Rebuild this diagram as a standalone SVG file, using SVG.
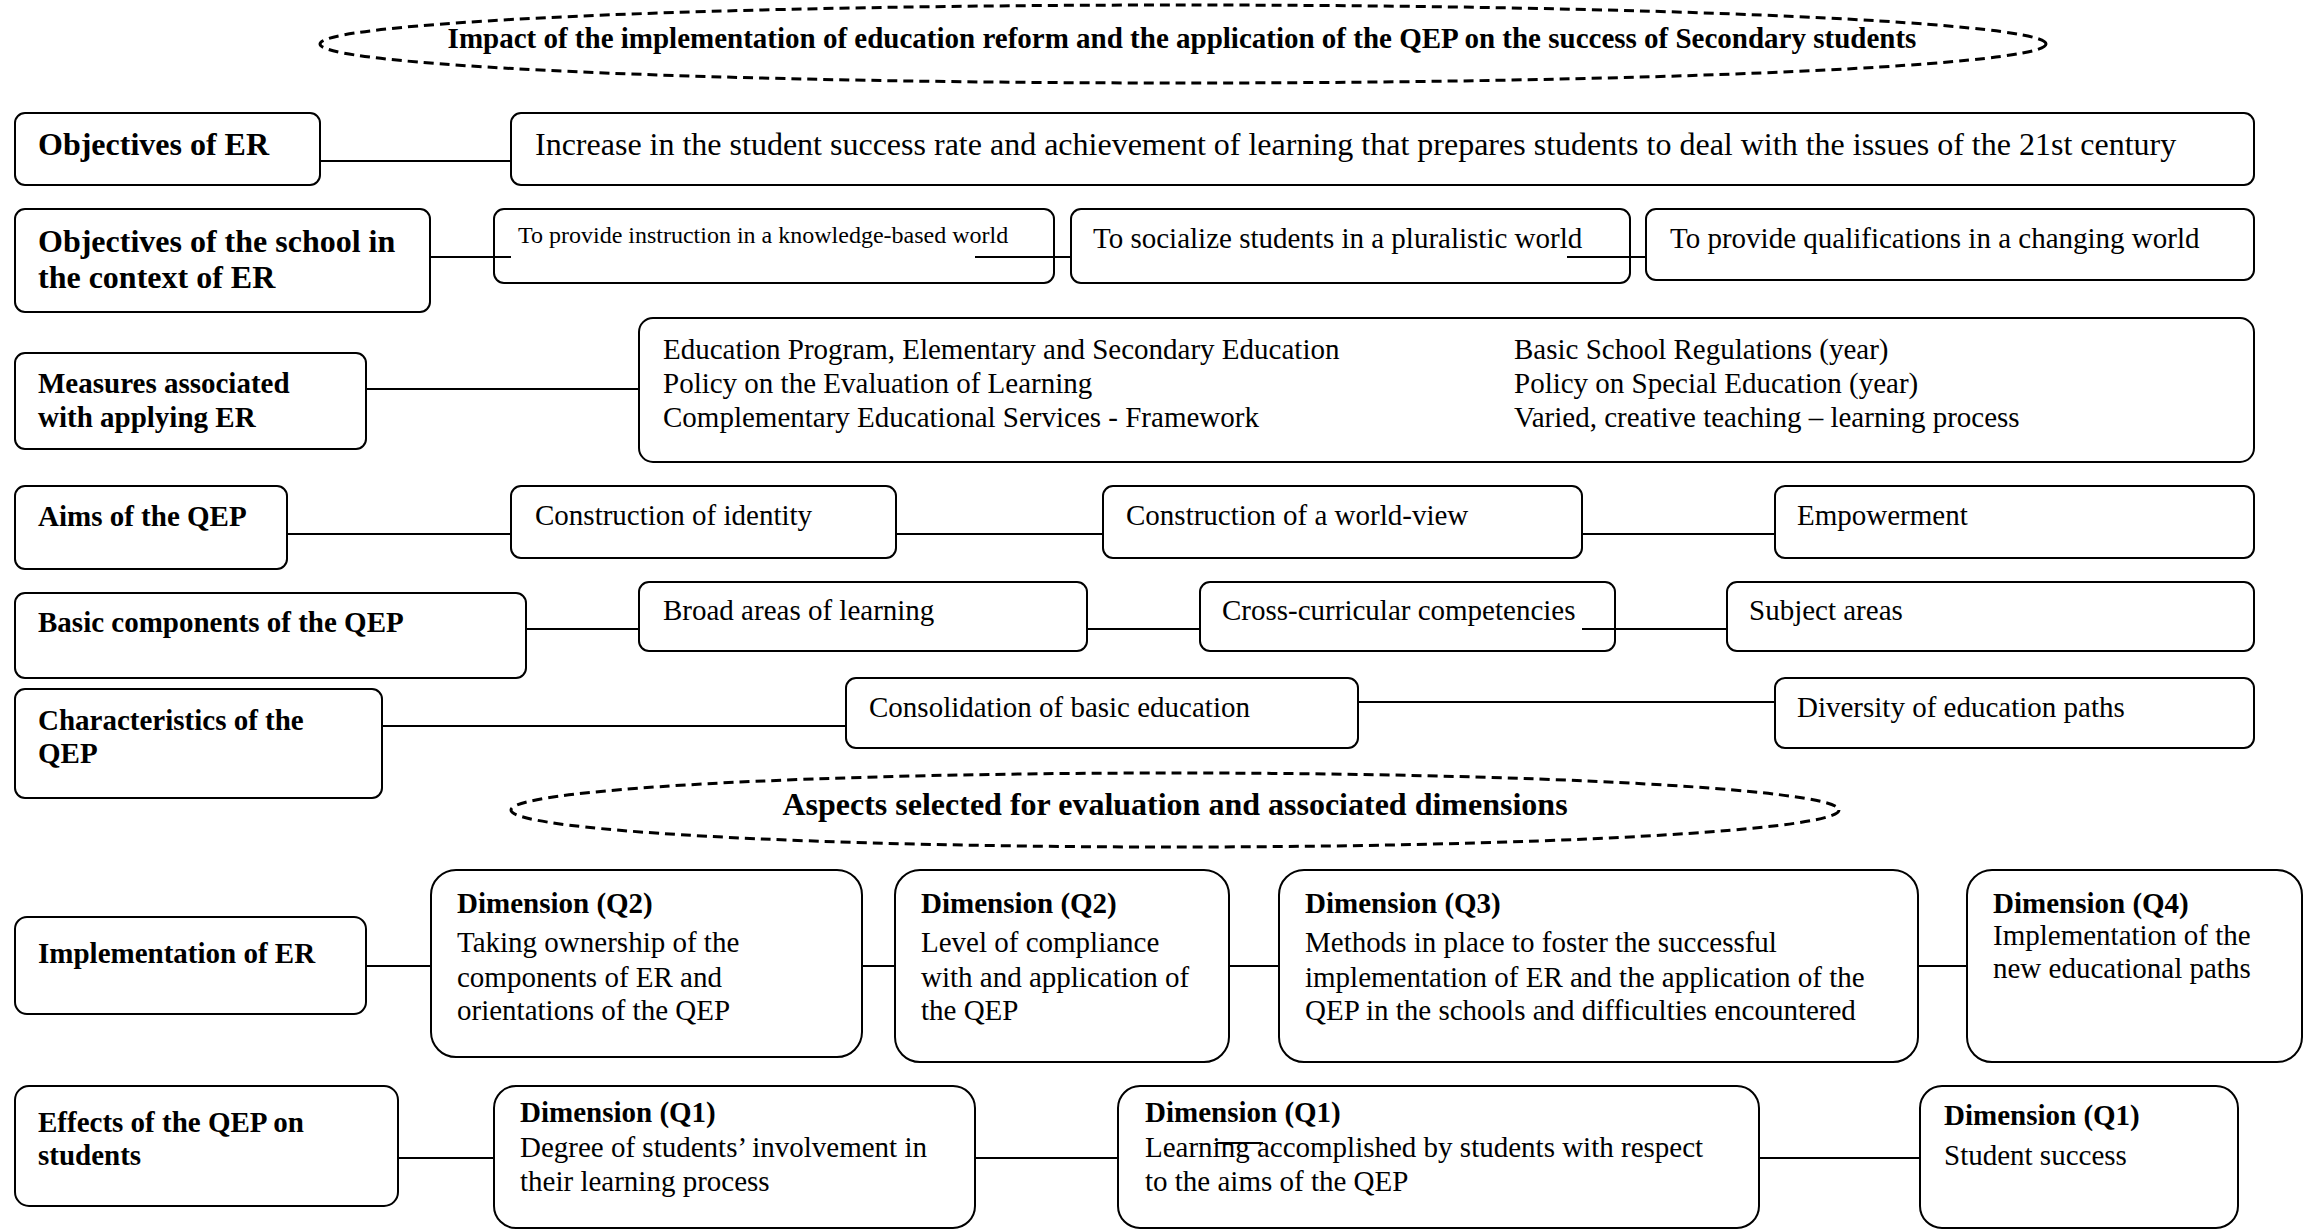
<svg xmlns="http://www.w3.org/2000/svg" width="2304" height="1230" viewBox="0 0 2304 1230">
<style>
  text { font-family: "Liberation Serif", "Times New Roman", serif; fill: #000; }
  .b { font-weight: bold; }
  .f32 { font-size: 32px; }
  .f29 { font-size: 29px; }
  .f24 { font-size: 24px; }
  .box { fill: #fff; stroke: #000; stroke-width: 2; }
  .ell { fill: none; stroke: #000; stroke-width: 3; stroke-dasharray: 10 6; }
  .con line { stroke: #000; stroke-width: 2; }
</style>
<rect width="2304" height="1230" fill="#fff"/>

<g id="title">
  <ellipse class="ell" cx="1183" cy="44" rx="863" ry="39"/>
  <text class="b f29" x="1182" y="48" text-anchor="middle">Impact of the implementation of education reform and the application of the QEP on the success of Secondary students</text>
</g>

<g id="obj-er">
  <rect class="box" x="15" y="113" width="305" height="72" rx="10"/>
  <text class="b f32" x="38" y="155">Objectives of ER</text>
</g>
<g id="obj-er-1">
  <rect class="box" x="511" y="113" width="1743" height="72" rx="10"/>
  <text class="f32" x="535" y="155">Increase in the student success rate and achievement of learning that prepares students to deal with the issues of the 21st century</text>
</g>

<g id="obj-school">
  <rect class="box" x="15" y="209" width="415" height="103" rx="10"/>
  <text class="b f32" x="38" y="252">Objectives of the school in</text>
  <text class="b f32" x="38" y="288">the context of ER</text>
</g>
<g id="obj-school-1">
  <rect class="box" x="494" y="209" width="560" height="74" rx="10"/>
  <text class="f24" x="518" y="243">To provide instruction in a knowledge-based world</text>
</g>
<g id="obj-school-2">
  <rect class="box" x="1071" y="209" width="559" height="74" rx="10"/>
  <text class="f29" x="1093" y="248">To socialize students in a pluralistic world</text>
</g>
<g id="obj-school-3">
  <rect class="box" x="1646" y="209" width="608" height="71" rx="10"/>
  <text class="f29" x="1670" y="248">To provide qualifications in a changing world</text>
</g>

<g id="measures">
  <rect class="box" x="15" y="353" width="351" height="96" rx="10"/>
  <text class="b f29" x="38" y="393">Measures associated</text>
  <text class="b f29" x="38" y="427">with applying ER</text>
</g>
<g id="measures-1">
  <rect class="box" x="639" y="318" width="1615" height="144" rx="14"/>
  <text class="f29" x="663" y="359">Education Program, Elementary and Secondary Education</text>
  <text class="f29" x="663" y="393">Policy on the Evaluation of Learning</text>
  <text class="f29" x="663" y="427">Complementary Educational Services - Framework</text>
  <text class="f29" x="1514" y="359">Basic School Regulations (year)</text>
  <text class="f29" x="1514" y="393">Policy on Special Education (year)</text>
  <text class="f29" x="1514" y="427">Varied, creative teaching – learning process</text>
</g>

<g id="aims">
  <rect class="box" x="15" y="486" width="272" height="83" rx="10"/>
  <text class="b f29" x="38" y="526">Aims of the QEP</text>
</g>
<g id="aims-1">
  <rect class="box" x="511" y="486" width="385" height="72" rx="10"/>
  <text class="f29" x="535" y="525">Construction of identity</text>
</g>
<g id="aims-2">
  <rect class="box" x="1103" y="486" width="479" height="72" rx="10"/>
  <text class="f29" x="1126" y="525">Construction of a world-view</text>
</g>
<g id="aims-3">
  <rect class="box" x="1775" y="486" width="479" height="72" rx="10"/>
  <text class="f29" x="1797" y="525">Empowerment</text>
</g>

<g id="components">
  <rect class="box" x="15" y="593" width="511" height="85" rx="10"/>
  <text class="b f29" x="38" y="632">Basic components of the QEP</text>
</g>
<g id="components-1">
  <rect class="box" x="639" y="582" width="448" height="69" rx="10"/>
  <text class="f29" x="663" y="620">Broad areas of learning</text>
</g>
<g id="components-2">
  <rect class="box" x="1200" y="582" width="415" height="69" rx="10"/>
  <text class="f29" x="1222" y="620">Cross-curricular competencies</text>
</g>
<g id="components-3">
  <rect class="box" x="1727" y="582" width="527" height="69" rx="10"/>
  <text class="f29" x="1749" y="620">Subject areas</text>
</g>

<g id="characteristics">
  <rect class="box" x="15" y="689" width="367" height="109" rx="10"/>
  <text class="b f29" x="38" y="730">Characteristics of the</text>
  <text class="b f29" x="38" y="763">QEP</text>
</g>
<g id="characteristics-1">
  <rect class="box" x="846" y="678" width="512" height="70" rx="10"/>
  <text class="f29" x="869" y="717">Consolidation of basic education</text>
</g>
<g id="characteristics-2">
  <rect class="box" x="1775" y="678" width="479" height="70" rx="10"/>
  <text class="f29" x="1797" y="717">Diversity of education paths</text>
</g>

<g id="aspects">
  <ellipse class="ell" cx="1175" cy="810" rx="664" ry="37"/>
  <text class="b f32" x="1175" y="815" text-anchor="middle">Aspects selected for evaluation and associated dimensions</text>
</g>

<g id="implementation">
  <rect class="box" x="15" y="917" width="351" height="97" rx="12"/>
  <text class="b f29" x="38" y="963">Implementation of ER</text>
</g>
<g id="impl-q2a">
  <rect class="box" x="431" y="870" width="431" height="187" rx="25"/>
  <text class="b f29" x="457" y="913">Dimension (Q2)</text>
  <text class="f29" x="457" y="952">Taking ownership of the</text>
  <text class="f29" x="457" y="987">components of ER and</text>
  <text class="f29" x="457" y="1020">orientations of the QEP</text>
</g>
<g id="impl-q2b">
  <rect class="box" x="895" y="870" width="334" height="192" rx="25"/>
  <text class="b f29" x="921" y="913">Dimension (Q2)</text>
  <text class="f29" x="921" y="952">Level of compliance</text>
  <text class="f29" x="921" y="987">with and application of</text>
  <text class="f29" x="921" y="1020">the QEP</text>
</g>
<g id="impl-q3">
  <rect class="box" x="1279" y="870" width="639" height="192" rx="25"/>
  <text class="b f29" x="1305" y="913">Dimension (Q3)</text>
  <text class="f29" x="1305" y="952">Methods in place to foster the successful</text>
  <text class="f29" x="1305" y="987">implementation of ER and the application of the</text>
  <text class="f29" x="1305" y="1020">QEP in the schools and difficulties encountered</text>
</g>
<g id="impl-q4">
  <rect class="box" x="1967" y="870" width="335" height="192" rx="25"/>
  <text class="b f29" x="1993" y="913">Dimension (Q4)</text>
  <text class="f29" x="1993" y="945">Implementation of the</text>
  <text class="f29" x="1993" y="978">new educational paths</text>
</g>

<g id="effects">
  <rect class="box" x="15" y="1086" width="383" height="120" rx="14"/>
  <text class="b f29" x="38" y="1132">Effects of the QEP on</text>
  <text class="b f29" x="38" y="1165">students</text>
</g>
<g id="effects-q1a">
  <rect class="box" x="494" y="1086" width="481" height="142" rx="22"/>
  <text class="b f29" x="520" y="1122">Dimension (Q1)</text>
  <text class="f29" x="520" y="1157">Degree of students’ involvement in</text>
  <text class="f29" x="520" y="1191">their learning process</text>
</g>
<g id="effects-q1b">
  <rect class="box" x="1118" y="1086" width="641" height="142" rx="22"/>
  <text class="b f29" x="1145" y="1122">Dimension (Q1)</text>
  <text class="f29" x="1145" y="1157">Learning accomplished by students with respect</text>
  <text class="f29" x="1145" y="1191">to the aims of the QEP</text>
</g>
<g id="effects-q1c">
  <rect class="box" x="1920" y="1086" width="318" height="142" rx="22"/>
  <text class="b f29" x="1944" y="1125">Dimension (Q1)</text>
  <text class="f29" x="1944" y="1165">Student success</text>
</g>

<g id="connectors" class="con">
  <line x1="320" y1="161" x2="511" y2="161"/>
  <line x1="430" y1="257" x2="511" y2="257"/>
  <line x1="975" y1="257" x2="1071" y2="257"/>
  <line x1="1567" y1="257" x2="1646" y2="257"/>
  <line x1="366" y1="389" x2="639" y2="389"/>
  <line x1="287" y1="534" x2="511" y2="534"/>
  <line x1="896" y1="534" x2="1103" y2="534"/>
  <line x1="1582" y1="534" x2="1775" y2="534"/>
  <line x1="526" y1="629" x2="639" y2="629"/>
  <line x1="1087" y1="629" x2="1200" y2="629"/>
  <line x1="1582" y1="629" x2="1727" y2="629"/>
  <line x1="382" y1="726" x2="846" y2="726"/>
  <line x1="1358" y1="702" x2="1775" y2="702"/>
  <line x1="366" y1="966" x2="431" y2="966"/>
  <line x1="862" y1="966" x2="895" y2="966"/>
  <line x1="1229" y1="966" x2="1279" y2="966"/>
  <line x1="1918" y1="966" x2="1967" y2="966"/>
  <line x1="398" y1="1158" x2="494" y2="1158"/>
  <line x1="975" y1="1158" x2="1118" y2="1158"/>
  <line x1="1216" y1="1143" x2="1263" y2="1143"/>
  <line x1="1759" y1="1158" x2="1920" y2="1158"/>
</g>
</svg>
